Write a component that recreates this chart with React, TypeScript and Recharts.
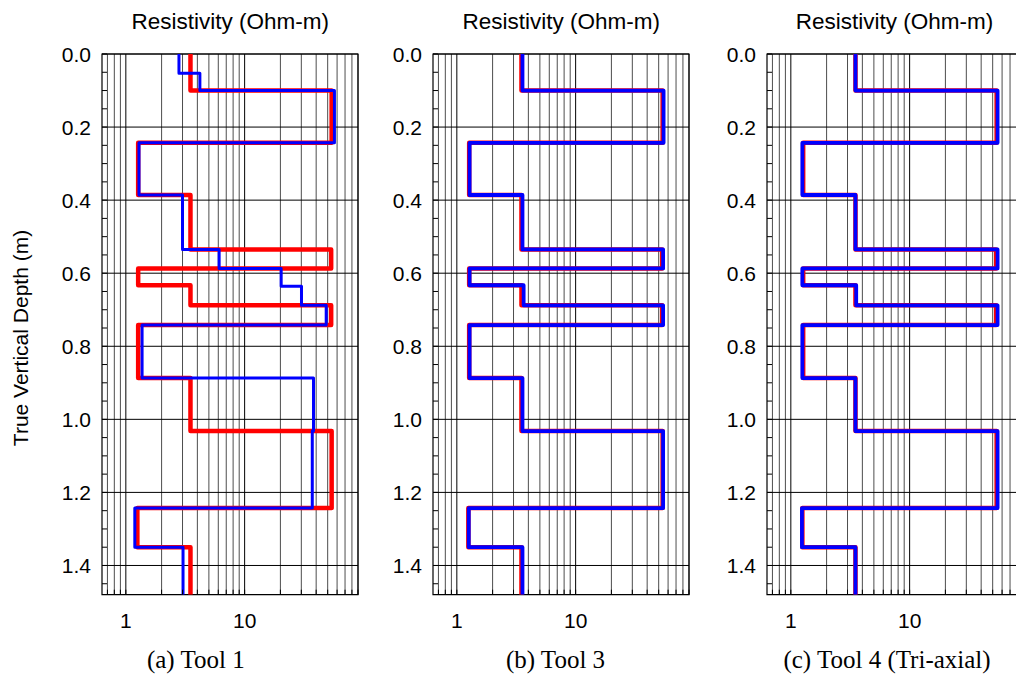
import React from "react";
import { LineChart, Line, XAxis, YAxis, ReferenceLine, ReferenceArea } from "recharts";

// depth of the layer boundaries (m)
const layerDepths = [0.1, 0.243, 0.386, 0.535, 0.587, 0.633, 0.688, 0.742, 0.887, 1.032, 1.243, 1.35];
// true model resistivity for each layer (Ohm-m)
const trueModel = [3.5, 54, 1.27, 3.5, 53.5, 1.27, 3.5, 53.5, 1.27, 3.5, 54, 1.25, 3.5];

// tool 1 inversion has a few extra breaks
const tool1Depths = [0.053, 0.1, 0.243, 0.386, 0.535, 0.587, 0.636, 0.688, 0.742, 0.887, 1.032, 1.243, 1.35];
const tool1Inverted = [2.8, 4.2, 57, 1.29, 3.0, 6.1, 20.3, 30.1, 48.6, 1.37, 38, 37.1, 1.19, 3.03];

const tool3Inverted = [3.57, 55, 1.28, 3.57, 54.5, 1.28, 3.65, 54.5, 1.28, 3.57, 54.5, 1.26, 3.57];
const tool4Inverted = [3.5, 55, 1.25, 3.5, 55, 1.25, 3.55, 55, 1.25, 3.5, 55, 1.24, 3.5];

const depthTicks = [0, 0.05, 0.1, 0.15, 0.2, 0.25, 0.3, 0.35, 0.4, 0.45, 0.5, 0.55, 0.6, 0.65, 0.7, 0.75, 0.8, 0.85, 0.9, 0.95, 1.0, 1.05, 1.1, 1.15, 1.2, 1.25, 1.3, 1.35, 1.4, 1.45];
const depthLabels = [0, 0.2, 0.4, 0.6, 0.8, 1.0, 1.2, 1.4];
const resTicks = [0.7, 0.8, 0.9, 1, 2, 3, 4, 5, 6, 7, 8, 9, 10, 20, 30, 40, 50, 60, 70, 80, 90];
const resLabels = [1, 10];

const captions = ["(a) Tool 1", "(b) Tool 3", "(c) Tool 4 (Tri-axial)"];

const depthMax = 1.48;
const resDomain = [0.63, 90];

const toSteps = (bounds: number[], values: number[]) => {
  const edges = [0, ...bounds, depthMax];
  const pts: { r: number; d: number }[] = [];
  values.forEach((v, i) => {
    pts.push({ r: v, d: edges[i] });
    pts.push({ r: v, d: edges[i + 1] });
  });
  return pts;
};

const SANS = "'Liberation Sans', Arial, sans-serif";
const SERIF = "'Liberation Serif', 'Times New Roman', serif";

const ResTick = (props: any) => {
  const { x, y, payload } = props;
  const v = payload.value;
  return (
    <g>
      <line x1={x} x2={x} y1={y} y2={y - 5} stroke="#000" />
      {resLabels.includes(v) && (
        <text x={x} y={y + 33} textAnchor="middle" fontSize={21} fontFamily={SANS} fill="#000">
          {v}
        </text>
      )}
    </g>
  );
};

const DepthTick = (props: any) => {
  const { x, y, payload } = props;
  const v = payload.value;
  return (
    <g>
      <line x1={x} x2={x + 5} y1={y} y2={y} stroke="#000" />
      {depthLabels.includes(v) && (
        <text x={x - 11} y={y} dy="0.36em" textAnchor="end" fontSize={21} fontFamily={SANS} fill="#000">
          {v.toFixed(1)}
        </text>
      )}
    </g>
  );
};

const PLOT_W = 256;
const AXIS_W = 80;

type PanelProps = {
  left: number;
  red: { r: number; d: number }[];
  blue: { r: number; d: number }[];
  blueWidth: number;
};

const Panel = ({ left, red, blue, blueWidth }: PanelProps) => (
  <div style={{ position: "absolute", left: left - AXIS_W, top: 0 }}>
    <LineChart
      width={AXIS_W + PLOT_W + 10}
      height={677}
      margin={{ top: 54, right: 10, bottom: 42.3, left: 0 }}
    >
      <XAxis
        type="number"
        dataKey="r"
        scale="log"
        domain={resDomain}
        allowDataOverflow
        ticks={resTicks}
        interval={0}
        tickSize={0}
        tickMargin={0}
        axisLine={false}
        tickLine={false}
        tick={ResTick}
        height={40}
      />
      <YAxis
        type="number"
        dataKey="d"
        domain={[0, depthMax]}
        reversed
        allowDataOverflow
        ticks={depthTicks}
        interval={0}
        tickSize={0}
        tickMargin={0}
        axisLine={false}
        tickLine={false}
        tick={DepthTick}
        width={AXIS_W}
      />
      {resTicks.map((v) => (
        <ReferenceLine
          key={`gx-${v}`}
          x={v}
          stroke="#000"
          strokeOpacity={resLabels.includes(v) ? 1 : 0.7}
          strokeWidth={1}
        />
      ))}
      {depthLabels.map((v) => (
        <ReferenceLine key={`gy-${v}`} y={v} stroke="#000" strokeWidth={1} />
      ))}
      <Line
        data={red}
        dataKey="d"
        type="linear"
        stroke="#ff0000"
        strokeWidth={4.5}
        strokeLinejoin="round"
        dot={false}
        activeDot={false}
        isAnimationActive={false}
      />
      <Line
        data={blue}
        dataKey="d"
        type="linear"
        stroke="#0000ff"
        strokeWidth={blueWidth}
        strokeLinejoin="round"
        dot={false}
        activeDot={false}
        isAnimationActive={false}
      />
      <ReferenceArea
        x1={resDomain[0]}
        x2={resDomain[1]}
        y1={0}
        y2={depthMax}
        fill="none"
        stroke="#000"
        strokeWidth={1.2}
        ifOverflow="visible"
      />
    </LineChart>
  </div>
);

const panelLefts = [102.3, 433.3, 766.6];
const captionCenters = [195.8, 555.5, 887];

export default function App() {
  const redSteps = toSteps(layerDepths, trueModel);
  const blues = [
    toSteps(tool1Depths, tool1Inverted),
    toSteps(layerDepths, tool3Inverted),
    toSteps(layerDepths, tool4Inverted),
  ];
  const blueWidths = [3, 3.8, 3.8];
  return (
    <div
      style={{
        position: "absolute",
        left: 0,
        top: 0,
        width: 1016,
        height: 677,
        overflow: "hidden",
        background: "#fff",
      }}
    >
      {panelLefts.map((l, i) => (
        <Panel key={i} left={l} red={redSteps} blue={blues[i]} blueWidth={blueWidths[i]} />
      ))}
      <svg
        width={1016}
        height={677}
        style={{ position: "absolute", left: 0, top: 0, pointerEvents: "none" }}
      >
        {panelLefts.map((l, i) => (
          <text
            key={`t-${i}`}
            x={l + PLOT_W / 2}
            y={29.3}
            textAnchor="middle"
            fontSize={22.5}
            fontFamily={SANS}
            fill="#000"
          >
            Resistivity (Ohm-m)
          </text>
        ))}
        <text
          x={27.5}
          y={338}
          transform="rotate(-90 27.5 338)"
          textAnchor="middle"
          fontSize={21}
          fontFamily={SANS}
          fill="#000"
        >
          True Vertical Depth (m)
        </text>
        {captions.map((c, i) => (
          <text
            key={`c-${i}`}
            x={captionCenters[i]}
            y={668}
            textAnchor="middle"
            fontSize={25}
            fontFamily={SERIF}
            fill="#000"
          >
            {c}
          </text>
        ))}
      </svg>
    </div>
  );
}
